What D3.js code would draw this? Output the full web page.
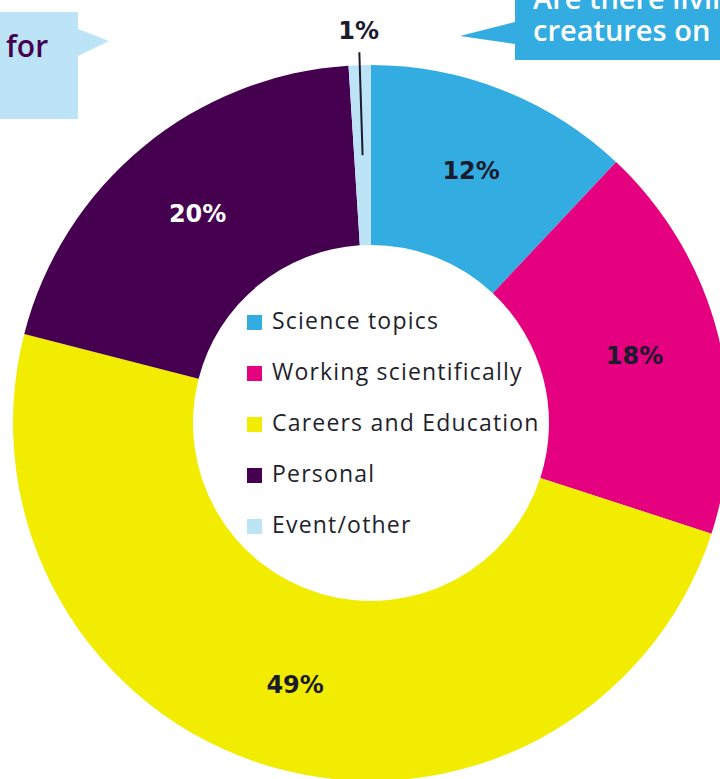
<!DOCTYPE html>
<html>
<head>
<meta charset="utf-8">
<script src="https://cdn.jsdelivr.net/npm/d3@7/dist/d3.min.js"></script>
<style>
  html, body { margin: 0; padding: 0; background: #fff; overflow: hidden; }
  svg { display: block; }
</style>
</head>
<body>
<svg id="chart" width="720" height="779"></svg>
<script>
// Share of questions by theme (percent)
const categories = ["Science topics", "Working scientifically", "Careers and Education", "Personal", "Event/other"];
const values = [12, 18, 49, 20, 1];
const valueLabels = ["12%", "18%", "49%", "20%", "1%"];
const colors = ["#33ade1", "#e5007f", "#f2ec00", "#45004f", "#bde3f6"];
const labelColors = ["#1b1b2e", "#1b1b2e", "#1b1b2e", "#ffffff", "#1b1b2e"];

const svg = d3.select("#chart");
const cx = 371, cy = 423;
const rOuter = 358, rInner = 178;

// Speech-bubble callouts along the top edge
const callouts = svg.append("g");
callouts.append("path")
  .attr("d", "M0,12 H78 V29 L109,41 L78,56 V119 H0 Z")
  .attr("fill", "#bde3f6");
callouts.append("text")
  .attr("x", 6).attr("y", 57)
  .attr("font-family", "'Open Sans', sans-serif")
  .attr("font-weight", 600)
  .attr("font-size", 30)
  .attr("fill", "#45004f")
  .text("for");

callouts.append("path")
  .attr("d", "M515,-10 H720 V60 H515 V44 L460,36 L515,22 Z")
  .attr("fill", "#33ade1");
callouts.append("text")
  .attr("x", 533).attr("y", 9)
  .attr("font-family", "'Open Sans', sans-serif")
  .attr("font-weight", 600)
  .attr("font-size", 29)
  .attr("fill", "#ffffff")
  .text("Are there living");
callouts.append("text")
  .attr("x", 533).attr("y", 41)
  .attr("font-family", "'Open Sans', sans-serif")
  .attr("font-weight", 600)
  .attr("font-size", 29)
  .attr("fill", "#ffffff")
  .text("creatures on");

// Doughnut
const pie = d3.pie().sort(null).value(d => d.value);
const arcs = pie(categories.map((c, i) => ({ name: c, value: values[i], i })));
const arc = d3.arc().innerRadius(rInner).outerRadius(rOuter);
const labelArc = d3.arc().innerRadius(272).outerRadius(272);

const g = svg.append("g").attr("transform", `translate(${cx},${cy})`);
g.selectAll("path.slice")
  .data(arcs)
  .join("path")
  .attr("class", "slice")
  .attr("d", arc)
  .attr("fill", d => colors[d.data.i]);

// Value labels: inside the ring, except the smallest slice which gets a leader line
const labelFont = "'DejaVu Sans', sans-serif";
const small = d => d.data.value < 3;
const polar = (a, r) => [Math.sin(a) * r, -Math.cos(a) * r];

g.selectAll("text.val")
  .data(arcs.filter(d => !small(d)))
  .join("text")
  .attr("class", "val")
  .attr("transform", d => `translate(${labelArc.centroid(d)})`)
  .attr("text-anchor", "middle")
  .attr("dy", "0.36em")
  .attr("font-family", labelFont)
  .attr("font-weight", "bold")
  .attr("font-size", 24)
  .attr("fill", d => labelColors[d.data.i])
  .text(d => valueLabels[d.data.i]);

arcs.filter(small).forEach(d => {
  const mid = (d.startAngle + d.endAngle) / 2;
  const p0 = polar(mid, (rInner + rOuter) / 2);
  const p1 = polar(mid, 371);
  const pt = polar(mid, 393);
  g.append("line")
    .attr("x1", p0[0]).attr("y1", p0[1])
    .attr("x2", p1[0]).attr("y2", p1[1])
    .attr("stroke", "#1b1b2e").attr("stroke-width", 2);
  g.append("text")
    .attr("x", pt[0]).attr("y", pt[1])
    .attr("text-anchor", "middle")
    .attr("dy", "0.36em")
    .attr("font-family", labelFont)
    .attr("font-weight", "bold")
    .attr("font-size", 24)
    .attr("fill", labelColors[d.data.i])
    .text(valueLabels[d.data.i]);
});

// Legend in the hole
const rowY = d3.scalePoint().domain(categories).range([329, 533]);
const legend = svg.append("g");
const rows = legend.selectAll("g.row")
  .data(categories)
  .join("g")
  .attr("class", "row")
  .attr("transform", d => `translate(247,${rowY(d)})`);
rows.append("rect")
  .attr("x", 0).attr("y", -14)
  .attr("width", 15).attr("height", 15)
  .attr("fill", (d, i) => colors[i]);
rows.append("text")
  .attr("x", 25).attr("y", 0)
  .attr("font-family", "'Open Sans', sans-serif")
  .attr("font-size", 23)
  .attr("letter-spacing", 1.2)
  .attr("fill", "#1f1f2e")
  .text(d => d);
</script>
</body>
</html>
